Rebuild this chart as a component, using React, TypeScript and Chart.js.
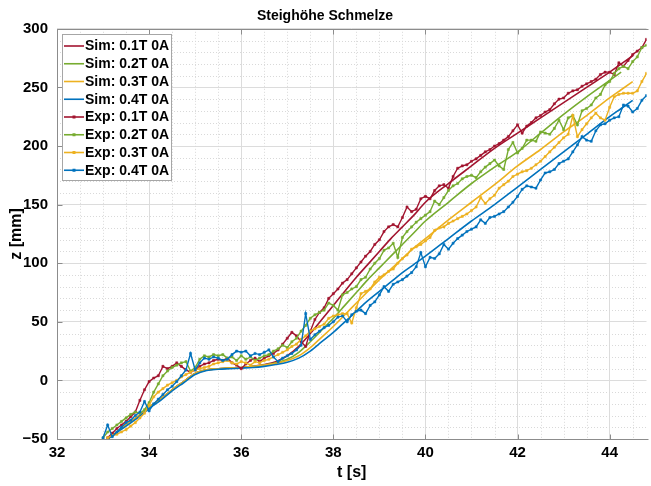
import React, { useEffect, useRef } from 'react';
import { Chart, registerables } from 'chart.js';

Chart.register(...registerables);

const FONT = '"Liberation Sans", Arial, Helvetica, sans-serif';

// ---- Experimental data (0.1 s sampling) ----
const expTime = [
  33.0, 33.1, 33.2, 33.3, 33.4, 33.5, 33.6, 33.7, 33.8, 33.9,
  34.0, 34.1, 34.2, 34.3, 34.4, 34.5, 34.6, 34.7, 34.8, 34.9,
  35.0, 35.1, 35.2, 35.3, 35.4, 35.5, 35.6, 35.7, 35.8, 35.9,
  36.0, 36.1, 36.2, 36.3, 36.4, 36.5, 36.6, 36.7, 36.8, 36.9,
  37.0, 37.1, 37.2, 37.3, 37.4, 37.5, 37.6, 37.7, 37.8, 37.9,
  38.0, 38.1, 38.2, 38.3, 38.4, 38.5, 38.6, 38.7, 38.8, 38.9,
  39.0, 39.1, 39.2, 39.3, 39.4, 39.5, 39.6, 39.7, 39.8, 39.9,
  40.0, 40.1, 40.2, 40.3, 40.4, 40.5, 40.6, 40.7, 40.8, 40.9,
  41.0, 41.1, 41.2, 41.3, 41.4, 41.5, 41.6, 41.7, 41.8, 41.9,
  42.0, 42.1, 42.2, 42.3, 42.4, 42.5, 42.6, 42.7, 42.8, 42.9,
  43.0, 43.1, 43.2, 43.3, 43.4, 43.5, 43.6, 43.7, 43.8, 43.9,
  44.0, 44.1, 44.2, 44.3, 44.4, 44.5, 44.6, 44.7, 44.8,
];

const expRed = [
  null, -49, -45, -41, -38, -35, -31, -27, -17, -8,
  -1, 2, 4, 12, 10, 12, 15, 12, 9, 7,
  9, 12, 14, 15, 17, 18, 17, 19, 15, 13,
  10, 14, 17, 19, 16, 19, 21, 23, 26, 31,
  36, 41, 38, 33, 29, 42, 52, 58, 62, 70,
  74, 78, 83, 86, 91, 96, 101, 106, 110, 116,
  120, 127, 131, 133, 131, 139, 148, 144, 146, 155,
  157, 155, 162, 166, 167, 164, 174, 181, 183, 184,
  187, 189, 192, 195, 197, 200, 202, 205, 208, 213,
  218, 211, 217, 220, 224, 226, 229, 231, 236, 240,
  241, 245, 247, 248, 251, 253, 255, 257, 261, 263,
  263, 261, 271, 268, 273, 278, 281, 284, 291,
];

const expGreen = [
  -49, -44, -41, -38, -35, -32, -29, -27, -28, -25,
  -19, -10, -3, 4, 8, 11, 13, 15, 16, 8,
  11, 18, 21, 20, 22, 21, 22, 19, 20, 17,
  21, 18, 20, 17, 19, 21, 22, 25, 27, 30,
  28, 33, 36, 42, 47, 53, 56, 58, 60, 66,
  64, 60, 73, 75, 78, 80, 86, 88, 95, 100,
  104, 111, 113, 117, 105, 122, 127, 131, 135, 138,
  141, 144, 153, 150, 156, 162, 166, 168, 172, 174,
  175, 173, 178, 182, 185, 188, 183, 180, 197, 203,
  194, 198, 205, 205, 204, 212, 211, 210, 215, 222,
  214, 224, 226, 218, 230, 232, 235, 241, 244, 252,
  255, 262, 266, 268, 266, 272, 276, 284, 286,
];

const expYellow = [
  null, -49, -47, -46, -44, -42, -39, -36, -32, -28,
  -21, -14, -10, -7, -4, -2, 0, 3, 5, 7,
  9, 10, 11, 12, 14, 15, 16, 17, 15, 14,
  16, 15, 13, 16, 15, 17, 18, 20, 22, 24,
  26, 29, 31, 35, 38, 42, 44, 46, 48, 53,
  55, 56, 57, 57, 49, 62, 74, 76, 78, 84,
  88, 90, 93, 95, 100, 104, 107, 112, 114, 116,
  119, 122, 128, 130, 131, 134, 136, 138, 140, 142,
  145, 148, 156, 151, 155, 158, 164, 167, 170, 174,
  176, 178, 179, 181, 184, 187, 191, 195, 199, 203,
  207, 210, 226, 208, 214, 219, 224, 228, 224, 222,
  233, 242, 244, 245, 245, 245, 247, 255, 262,
];

const expBlue = [
  -49, -38, -48, -44, -40, -36, -34, -30, -27, -18,
  -26, -20, -16, -12, -8, -5, -1, 4, 9, 23,
  9, 15, 19, 18, 20, 19, 17, 18, 22, 25,
  24, 25, 21, 23, 22, 24, 26, 20, 16, 19,
  21, 23, 26, 30, 57, 35, 39, 42, 45, 47,
  50, 54, 55, 50, 56, 59, 60, 57, 64, 67,
  73, 80, 76, 82, 84, 86, 89, 92, 97, 109,
  97, 105, 104, 108, 116, 112, 117, 121, 124, 127,
  129, 131, 137, 134, 139, 140, 142, 144, 148, 152,
  157, 163, 166, 165, 164, 171, 177, 178, 180, 185,
  187, 189, 195, 201, 208, 205, 204, 213, 218, 219,
  222, 224, 225, 235, 234, 229, 232, 239, 243,
];

// ---- Simulation data ----
const simTime = [
  33.1, 33.5, 33.75, 34.0, 34.25, 34.5, 34.75, 35.0, 35.25, 35.5,
  35.75, 36.0, 36.25, 36.5, 36.75, 37.0, 37.25, 37.5, 37.75, 38.0,
  38.25, 38.5, 38.75, 39.0, 39.25, 39.5, 39.75, 40.0, 40.5, 41.0,
  41.5, 42.0, 42.5, 43.0, 43.5, 44.0, 44.25, 44.5,
];

const simRed = [
  -50, -38, -31, -23, -16, -8, -1, 6, 9, 10,
  10.5, 11, 12, 13.5, 16, 21, 29, 40, 52, 64,
  76, 88, 99, 110, 121, 131, 141, 152, 168, 183,
  198, 211, 224, 237, 250, 263, 270, 277,
];

const simGreen = [
  -50, -38, -31, -23, -16, -8, -1, 6, 9, 10,
  10.5, 11, 12, 13, 15, 18, 24, 33, 43, 53,
  64, 75, 86, 96, 106, 116, 126, 136, 152, 168,
  182, 195, 211, 227, 242, 256, 263, null,
];

const simYellow = [
  -50, -38, -31, -23, -16, -8, -1, 6, 9, 10,
  10.5, 11, 12, 13, 14.5, 17, 21, 28, 37, 46,
  56, 66, 76, 86, 95, 104, 113, 121, 137, 152,
  167, 183, 197, 212, 226, 241, 248, 255,
];

const simBlue = [
  -50, -39, -32, -24, -17, -9, -2, 5, 8.5, 9.5,
  10, 10.5, 11, 12, 13.5, 15.5, 19, 25, 33, 41,
  50, 59, 68, 76, 84, 92, 99, 106, 121, 136,
  150, 165, 180, 195, 210, 225, 232, 239,
];

const seriesLabels = [
  'Sim: 0.1T 0A', 'Sim: 0.2T 0A', 'Sim: 0.3T 0A', 'Sim: 0.4T 0A',
  'Exp: 0.1T 0A', 'Exp: 0.2T 0A', 'Exp: 0.3T 0A', 'Exp: 0.4T 0A',
];
const seriesColors = ['#A2142F', '#77AC30', '#EDB120', '#0072BD'];

const xTickValues = [32, 34, 36, 38, 40, 42, 44];
const yTickValues = [-50, 0, 50, 100, 150, 200, 250, 300];
const xMin = 32;
const xMax = 44.8;
const yMin = -50;
const yMax = 300;

function toPoints(xs: number[], ys: (number | null)[]) {
  const pts: { x: number; y: number }[] = [];
  xs.forEach((x, i) => {
    const y = ys[i];
    if (y !== null && y !== undefined) pts.push({ x, y });
  });
  return pts;
}

const axisColor = '#8c8c8c';

const extrasPlugin = {
  id: 'matlabExtras',
  beforeDatasetsDraw(chart: any) {
    const { ctx, chartArea } = chart;
    const xs = chart.scales.x;
    const ys = chart.scales.y;
    ctx.save();
    ctx.beginPath();
    ctx.rect(chartArea.left, chartArea.top, chartArea.right - chartArea.left, chartArea.bottom - chartArea.top);
    ctx.clip();
    ctx.strokeStyle = '#d9d9d9';
    ctx.lineWidth = 1;
    ctx.setLineDash([1, 2]);
    for (let v = xMin + 0.5; v < xMax; v += 0.5) {
      if (Math.abs(v / 2 - Math.round(v / 2)) < 1e-6) continue;
      const px = Math.round(xs.getPixelForValue(v)) + 0.5;
      ctx.beginPath();
      ctx.moveTo(px, chartArea.top);
      ctx.lineTo(px, chartArea.bottom);
      ctx.stroke();
    }
    for (let v = yMin + 10; v < yMax; v += 10) {
      if (v % 50 === 0) continue;
      const py = Math.round(ys.getPixelForValue(v)) + 0.5;
      ctx.beginPath();
      ctx.moveTo(chartArea.left, py);
      ctx.lineTo(chartArea.right, py);
      ctx.stroke();
    }
    ctx.restore();
  },
  afterDatasetsDraw(chart: any) {
    const { ctx, chartArea } = chart;
    const xs = chart.scales.x;
    const ys = chart.scales.y;
    ctx.save();
    ctx.strokeStyle = axisColor;
    ctx.lineWidth = 1;
    const top = Math.round(chartArea.top) + 0.5;
    const bottom = Math.round(chartArea.bottom) + 0.5;
    const left = Math.round(chartArea.left) + 0.5;
    ctx.beginPath();
    ctx.moveTo(left, top);
    ctx.lineTo(chartArea.right + 2, top);
    ctx.moveTo(left, top);
    ctx.lineTo(left, bottom);
    ctx.lineTo(chartArea.right + 2, bottom);
    ctx.stroke();
    ctx.beginPath();
    xTickValues.forEach((v) => {
      const px = Math.round(xs.getPixelForValue(v)) + 0.5;
      ctx.moveTo(px, top);
      ctx.lineTo(px, top + 5);
      ctx.moveTo(px, bottom);
      ctx.lineTo(px, bottom - 5);
    });
    yTickValues.forEach((v) => {
      const py = Math.round(ys.getPixelForValue(v)) + 0.5;
      ctx.moveTo(left, py);
      ctx.lineTo(left + 5, py);
    });
    ctx.stroke();

    // legend box
    const x0 = Math.round(chartArea.left + 4.5) + 0.5;
    const y0 = Math.round(chartArea.top + 5) + 0.5;
    const w = 109;
    const h = 146;
    ctx.fillStyle = '#ffffff';
    ctx.fillRect(x0, y0, w, h);
    ctx.strokeStyle = '#a6a6a6';
    ctx.strokeRect(x0, y0, w, h);
    ctx.font = `bold 14px ${FONT}`;
    ctx.textBaseline = 'middle';
    ctx.textAlign = 'left';
    chart.data.datasets.forEach((ds: any, i: number) => {
      const cy = y0 + 11.5 + i * 17.75;
      ctx.strokeStyle = ds.borderColor;
      ctx.lineWidth = 1.6;
      ctx.beginPath();
      ctx.moveTo(x0 + 1.5, cy);
      ctx.lineTo(x0 + 21.5, cy);
      ctx.stroke();
      if (ds.pointRadius > 0) {
        ctx.fillStyle = ds.borderColor;
        ctx.fillRect(x0 + 11.5 - 1.5, cy - 1.5, 3, 3);
      }
      ctx.fillStyle = '#000000';
      ctx.fillText(ds.label, x0 + 22.5, cy + 0.5);
    });
    ctx.restore();
  },
};

export default function App() {
  const canvasRef = useRef<HTMLCanvasElement | null>(null);

  useEffect(() => {
    const canvas = canvasRef.current;
    if (!canvas) return;
    document.body.style.margin = '0';

    const simSeries = [simRed, simGreen, simYellow, simBlue];
    const expSeries = [expRed, expGreen, expYellow, expBlue];

    const datasets: any[] = [];
    simSeries.forEach((s, i) => {
      datasets.push({
        label: seriesLabels[i],
        data: toPoints(simTime, s),
        borderColor: seriesColors[i],
        backgroundColor: seriesColors[i],
        borderWidth: 1.6,
        pointRadius: 0,
        cubicInterpolationMode: 'monotone',
        order: 8 - i,
      });
    });
    expSeries.forEach((s, i) => {
      datasets.push({
        label: seriesLabels[4 + i],
        data: toPoints(expTime, s),
        borderColor: seriesColors[i],
        backgroundColor: seriesColors[i],
        borderWidth: 1.4,
        pointRadius: 1.5,
        pointStyle: 'rect',
        pointBorderWidth: 0.5,
        tension: 0,
        order: 4 - i,
      });
    });

    const chart = new Chart(canvas, {
      type: 'scatter',
      data: { datasets },
      options: {
        responsive: false,
        animation: false,
        showLine: true,
        layout: { padding: { left: 0, right: 1, top: 0, bottom: 0 } },
        plugins: {
          legend: { display: false },
          tooltip: { enabled: false },
          title: {
            display: true,
            text: 'Steighöhe Schmelze',
            color: '#000000',
            font: { family: FONT, size: 14, weight: 'bold' },
            padding: { top: 8, bottom: 4 },
          },
        },
        scales: {
          x: {
            type: 'linear',
            min: xMin,
            max: xMax,
            afterBuildTicks: (scale: any) => {
              scale.ticks = xTickValues.map((v) => ({ value: v }));
            },
            afterFit: (scale: any) => {
              scale.height = 47;
            },
            ticks: {
              color: '#000000',
              font: { family: FONT, size: 15, weight: 'bold' },
              padding: 5,
              maxRotation: 0,
              autoSkip: false,
            },
            grid: { color: '#dcdcdc', lineWidth: 1, drawTicks: false },
            border: { display: false },
            title: {
              display: true,
              text: 't [s]',
              color: '#000000',
              font: { family: FONT, size: 16, weight: 'bold' },
              padding: { top: 0, bottom: 4 },
            },
          },
          y: {
            type: 'linear',
            min: yMin,
            max: yMax,
            afterBuildTicks: (scale: any) => {
              scale.ticks = yTickValues.map((v) => ({ value: v }));
            },
            afterFit: (scale: any) => {
              scale.width = 57;
            },
            ticks: {
              color: '#000000',
              font: { family: FONT, size: 15, weight: 'bold' },
              padding: 9,
              callback: (v: any) => String(v).replace('-', '\u2212'),
            },
            grid: { color: '#dcdcdc', lineWidth: 1, drawTicks: false },
            border: { display: false },
            title: {
              display: true,
              text: 'z [mm]',
              color: '#000000',
              font: { family: FONT, size: 16, weight: 'bold' },
              padding: { top: 7, bottom: 0 },
            },
          },
        },
      },
      plugins: [extrasPlugin],
    } as any);

    return () => {
      chart.destroy();
    };
  }, []);

  return (
    <div style={{ position: 'absolute', left: 0, top: 0, width: 651, height: 486 }}>
      <canvas ref={canvasRef} width={651} height={486} />
    </div>
  );
}
